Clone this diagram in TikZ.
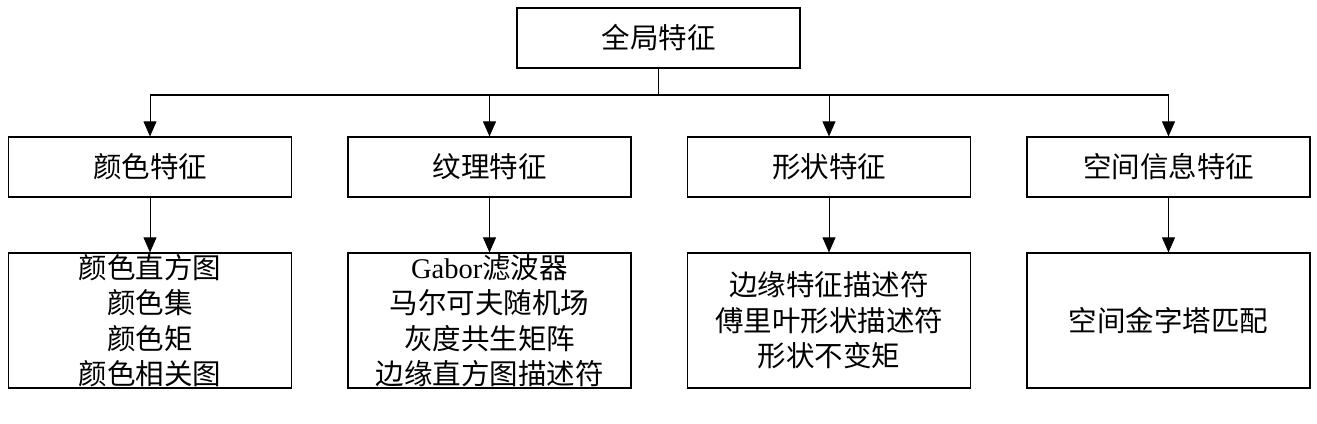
\documentclass[tikz,border=0pt]{standalone}
\usepackage{fontspec}
\setmainfont{Liberation Serif}
\newfontfamily\cjk{Noto Sans CJK SC}
\usetikzlibrary{arrows.meta,positioning}
\tikzset{
  box/.style={draw, line width=1.2pt, minimum width=283pt, minimum height=60pt, inner sep=0pt, align=center, font=\fontsize{28.5}{35.5}\selectfont\cjk},
  tallbox/.style={box, minimum height=135pt},
  conn/.style={line width=0.8pt, -{Triangle[width=13pt,length=15pt]}},
  plain/.style={line width=0.8pt}
}
\begin{document}
\begin{tikzpicture}[x=1pt,y=-1pt]
\useasboundingbox (0,0) rectangle (1317,423);
\node[box] (top) at (658.5,38) {全局特征};
\node[box] (c1) at (150,167) {颜色特征};
\node[box] (c2) at (489.5,167) {纹理特征};
\node[box] (c3) at (829,167) {形状特征};
\node[box] (c4) at (1168.5,167) {空间信息特征};
\node[tallbox] (d1) at (150,320.5) {颜色直方图\\颜色集\\颜色矩\\颜色相关图};
\node[tallbox] (d2) at (489.5,320.5) {{\rmfamily Gabor}滤波器\\马尔可夫随机场\\灰度共生矩阵\\边缘直方图描述符};
\node[tallbox] (d3) at (829,320.5) {边缘特征描述符\\傅里叶形状描述符\\形状不变矩};
\node[tallbox] (d4) at (1168.5,320.5) {空间金字塔匹配};
\coordinate (hub) at (658.5,95);
\coordinate (h1) at (150,95);
\coordinate (h2) at (489.5,95);
\coordinate (h3) at (829,95);
\coordinate (h4) at (1168.5,95);
\draw[plain] (top.south) -- (hub);
\draw[line width=1.2pt] (h1) -- (h4);
\draw[conn] (h1) -- (c1.north);
\draw[conn] (h2) -- (c2.north);
\draw[conn] (h3) -- (c3.north);
\draw[conn] (h4) -- (c4.north);
\draw[conn] (c1.south) -- (d1.north);
\draw[conn] (c2.south) -- (d2.north);
\draw[conn] (c3.south) -- (d3.north);
\draw[conn] (c4.south) -- (d4.north);
\end{tikzpicture}
\end{document}
